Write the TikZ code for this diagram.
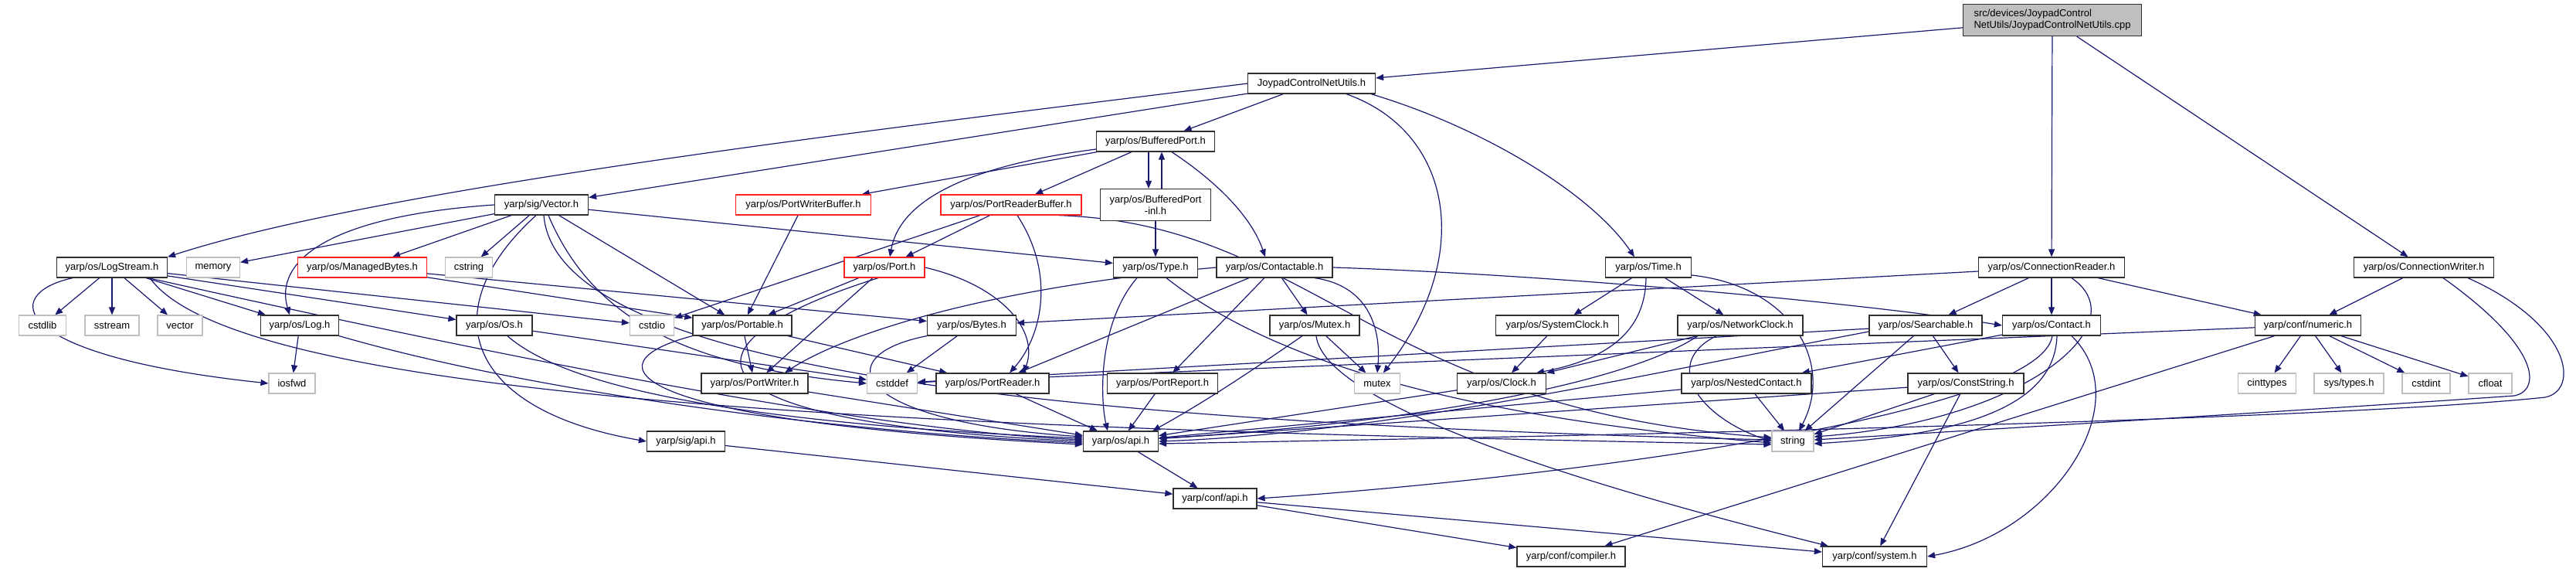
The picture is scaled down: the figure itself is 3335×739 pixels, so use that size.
\documentclass[tikz,border=0pt]{standalone}
\usepackage{fontspec}
\setmainfont{Liberation Sans}
\usetikzlibrary{arrows.meta}
\definecolor{edgec}{HTML}{191970}
\definecolor{redb}{HTML}{FF2020}
\definecolor{grayb}{HTML}{BFBFBF}
\definecolor{darkb}{HTML}{303030}
\pgfdeclarelayer{bg}
\pgfsetlayers{bg,main}
\begin{document}
\begin{tikzpicture}[x=1pt,y=-1pt,
  nb/.style={draw=darkb, fill=white, line width=1.25pt, minimum height=26pt, inner sep=0pt, font=\fontsize{13}{15}\selectfont},
  rb/.style={nb, draw=redb},
  gb/.style={nb, draw=grayb, line width=1.1pt},
  ar/.style={draw=edgec, line width=1.2pt, -{Triangle[length=10pt,width=8pt]}}]
\useasboundingbox (0,0) rectangle (3335,739);
% ---------- nodes ----------
\node[nb, minimum width=231pt, minimum height=41pt, fill=grayb, align=left] (cpp) at (2657,26) {src/devices/JoypadControl\\NetUtils/JoypadControlNetUtils.cpp};
\node[nb, minimum width=165pt] (jc) at (1698,108) {JoypadControlNetUtils.h};
\node[nb, minimum width=143pt] (ls) at (145,346) {yarp/os/LogStream.h};
\node[gb, minimum width=69pt] (memory) at (276,346) {memory};
\node[rb, minimum width=167pt] (mb) at (469,346) {yarp/os/ManagedBytes.h};
\node[gb, minimum width=61pt] (cstring) at (607,346) {cstring};
\node[nb, minimum width=121pt] (vec) at (701,265) {yarp/sig/Vector.h};
\node[rb, minimum width=175pt] (pwb) at (1040,265) {yarp/os/PortWriterBuffer.h};
\node[rb, minimum width=182pt] (prb) at (1309,265) {yarp/os/PortReaderBuffer.h};
\node[nb, minimum width=153pt] (bp) at (1496,183) {yarp/os/BufferedPort.h};
\node[nb, minimum width=143pt, minimum height=41pt, align=center] (inl) at (1496,265) {yarp/os/BufferedPort\\-inl.h};
\node[rb, minimum width=104pt] (port) at (1145,346) {yarp/os/Port.h};
\node[nb, minimum width=109pt] (type) at (1496,346) {yarp/os/Type.h};
\node[nb, minimum width=150pt] (ctb) at (1650,346) {yarp/os/Contactable.h};
\node[nb, minimum width=111pt] (time) at (2134,346) {yarp/os/Time.h};
\node[nb, minimum width=189pt] (cr) at (2656,346) {yarp/os/ConnectionReader.h};
\node[nb, minimum width=181pt] (cw) at (3138,346) {yarp/os/ConnectionWriter.h};
\node[gb, minimum width=61pt] (cstdlib) at (55,421) {cstdlib};
\node[gb, minimum width=70pt] (sstream) at (145,421) {sstream};
\node[gb, minimum width=58pt] (vector) at (233,421) {vector};
\node[nb, minimum width=101pt] (log) at (388,421) {yarp/os/Log.h};
\node[nb, minimum width=98pt] (os) at (640,421) {yarp/os/Os.h};
\node[gb, minimum width=57pt] (cstdio) at (844,421) {cstdio};
\node[nb, minimum width=128pt] (portable) at (961,421) {yarp/os/Portable.h};
\node[nb, minimum width=115pt] (bytes) at (1258,421) {yarp/os/Bytes.h};
\node[nb, minimum width=116pt] (mutexh) at (1702,421) {yarp/os/Mutex.h};
\node[nb, minimum width=159pt] (sysclk) at (2016,421) {yarp/os/SystemClock.h};
\node[nb, minimum width=162pt] (netclk) at (2253,421) {yarp/os/NetworkClock.h};
\node[nb, minimum width=146pt] (search) at (2493,421) {yarp/os/Searchable.h};
\node[nb, minimum width=127pt] (contact) at (2656,421) {yarp/os/Contact.h};
\node[nb, minimum width=137pt] (numeric) at (2988,421) {yarp/conf/numeric.h};
\node[gb, minimum width=60pt] (iosfwd) at (378,496) {iosfwd};
\node[nb, minimum width=138pt] (pw) at (977,496) {yarp/os/PortWriter.h};
\node[gb, minimum width=65pt] (cstddef) at (1155,496) {cstddef};
\node[nb, minimum width=146pt] (pr) at (1285,496) {yarp/os/PortReader.h};
\node[nb, minimum width=143pt] (prep) at (1505,496) {yarp/os/PortReport.h};
\node[gb, minimum width=59pt] (mutex) at (1783,496) {mutex};
\node[nb, minimum width=115pt] (clock) at (1944,496) {yarp/os/Clock.h};
\node[nb, minimum width=168pt] (nested) at (2261,496) {yarp/os/NestedContact.h};
\node[nb, minimum width=150pt] (cstr) at (2545,496) {yarp/os/ConstString.h};
\node[gb, minimum width=75pt] (cinttypes) at (2935,496) {cinttypes};
\node[gb, minimum width=90pt] (systypes) at (3041,496) {sys/types.h};
\node[gb, minimum width=62pt] (cstdint) at (3141,496) {cstdint};
\node[gb, minimum width=56pt] (cfloat) at (3224,496) {cfloat};
\node[nb, minimum width=101pt] (sigapi) at (888,571) {yarp/sig/api.h};
\node[nb, minimum width=97pt] (osapi) at (1451,571) {yarp/os/api.h};
\node[gb, minimum width=54pt] (string) at (2321,571) {string};
\node[nb, minimum width=108pt] (confapi) at (1573,645) {yarp/conf/api.h};
\node[nb, minimum width=140pt] (compiler) at (2034,720) {yarp/conf/compiler.h};
\node[nb, minimum width=135pt] (system) at (2427,720) {yarp/conf/system.h};
% ---------- edges ----------
\begin{pgfonlayer}{bg}
\draw[ar] (cpp) -- (jc);
\draw[ar] (cpp) -- (cr);
\draw[ar] (cpp) -- (cw);
\draw[ar] (jc.west) .. controls (1200,160) and (500,240) .. (ls.north east);
\draw[ar] (jc) -- (vec);
\draw[ar] (jc) -- (bp);
\draw[ar] ([xshift=45pt]jc.south) .. controls (1880,170) and (1910,330) .. (mutex.60);
\draw[ar] ([xshift=77pt]jc.south) .. controls (1920,165) and (2060,250) .. ([xshift=-18pt]time.north);
\draw[ar] (bp) -- (pwb);
\draw[ar] ([yshift=-10pt]bp.west) .. controls (1250,215) and (1165,260) .. ([xshift=7pt]port.north);
\draw[ar] (bp) -- (prb);
\draw[ar] ([xshift=-9pt]bp.south) -- ([xshift=-9pt]inl.north);
\draw[ar] ([xshift=8pt]inl.north) -- ([xshift=8pt]bp.south);
\draw[ar] ([xshift=21pt]bp.south) .. controls (1575,235) and (1620,280) .. ([xshift=-12pt]ctb.north);
\draw[ar] (inl) -- (type);
\draw[ar] (vec.west) .. controls (420,280) and (355,340) .. ([xshift=-13pt]log.north);
\draw[ar] (vec) -- (memory);
\draw[ar] (vec) -- (mb);
\draw[ar] (vec) -- (cstring);
\draw[ar] ([xshift=-7pt]vec.south) .. controls (560,400) and (600,530) .. (sigapi.west);
\draw[ar] (vec) -- (portable);
\draw[ar] (vec) -- (type);
\draw[ar] ([xshift=9pt]vec.south) .. controls (770,420) and (900,475) .. (cstddef.west);
\draw[ar] ([xshift=3pt]vec.south) .. controls (720,470) and (1300,545) .. ([yshift=2pt]string.west);
\draw[ar] (ls) -- (cstdlib);
\draw[ar] (ls) -- (sstream);
\draw[ar] (ls) -- (vector);
\draw[ar] (ls) -- (log);
\draw[ar] (ls) -- (os);
\draw[ar] (ls) -- (cstdio);
\draw[ar] ([xshift=-51pt]ls.south) .. controls (0,380) and (10,460) .. (iosfwd.west);
\draw[ar] ([xshift=49pt]ls.south) .. controls (310,520) and (1200,555) .. ([yshift=-4pt]string.west);
\draw[ar] ([xshift=47pt]ls.south) .. controls (600,450) and (1100,555) .. ([yshift=2pt]osapi.west);
\draw[ar] (mb) -- (portable);
\draw[ar] (mb) -- (bytes);
\draw[ar] (log) -- (iosfwd);
\draw[ar] (log.south east) .. controls (700,510) and (1100,560) .. ([yshift=-2pt]osapi.west);
\draw[ar] (os) -- (cstddef);
\draw[ar] ([xshift=17pt]os.south) .. controls (720,490) and (900,545) .. ([yshift=4pt]osapi.west);
\draw[ar] (portable) -- (pw);
\draw[ar] (portable) -- (pr);
\draw[ar] (portable.south west) .. controls (760,470) and (800,545) .. ([yshift=-4pt]osapi.west);
\draw[ar] (pwb) -- (portable);
\draw[ar] (prb) -- (cstdio);
\draw[ar] (prb) -- (port);
\draw[ar] ([xshift=8pt]prb.south) .. controls (1370,360) and (1345,440) .. ([xshift=22pt]pr.north);
\draw[ar] ([xshift=62pt]prb.south) .. controls (1700,290) and (1780,530) .. ([yshift=5pt]string.west);
\draw[ar] (port) -- (portable);
\draw[ar] (port) -- (pw);
\draw[ar] ([xshift=-8pt]port.south) .. controls (880,440) and (850,545) .. (osapi.west);
\draw[ar] (port.east) .. controls (1300,370) and (1345,430) .. ([xshift=40pt]pr.north);
\draw[ar] (bytes) -- (cstddef);
\draw[ar] (bytes.south west) .. controls (1070,460) and (1100,545) .. ([yshift=6pt]osapi.west);
\draw[ar] ([xshift=-24pt]type.south) .. controls (1420,420) and (1425,520) .. ([xshift=-17pt]osapi.north);
\draw[ar] ([xshift=14pt]type.south) .. controls (1650,470) and (1900,540) .. ([yshift=-2pt]string.west);
\draw[ar] (ctb.west) .. controls (1250,375) and (1080,440) .. ([xshift=39pt]pw.north);
\draw[ar] (ctb) -- (pr);
\draw[ar] (ctb) -- (prep);
\draw[ar] (ctb) -- (mutexh);
\draw[ar] ([xshift=52pt]ctb.south) .. controls (1775,370) and (1788,430) .. (mutex.north);
\draw[ar] (ctb.east) .. controls (2000,355) and (2400,390) .. (contact.west);
\draw[ar] (mutexh) -- (mutex);
\draw[ar] ([xshift=-16pt]mutexh.south) .. controls (1620,480) and (1560,520) .. ([xshift=-8pt]osapi.north east);
\draw[ar] ([xshift=2pt]mutexh.south) .. controls (1715,530) and (2100,640) .. ([xshift=-60pt]system.north);
\draw[ar] (prep) -- (osapi);
\draw[ar] (pr) -- (osapi);
\draw[ar] (pw) -- (osapi);
\draw[ar] (time) -- (sysclk);
\draw[ar] (time) -- (netclk);
\draw[ar] ([xshift=-3pt]time.south) .. controls (2130,430) and (2080,465) .. ([xshift=45pt]clock.north);
\draw[ar] ([yshift=-10pt]time.east) .. controls (2320,370) and (2375,470) .. ([xshift=8pt]string.north);
\draw[ar] (sysclk) -- (clock);
\draw[ar] (netclk) -- (clock.north east);
\draw[ar] ([xshift=-31pt]netclk.south) .. controls (2150,470) and (2200,540) .. (string.west);
\draw[ar] ([xshift=-55pt]netclk.south) .. controls (2100,500) and (1800,550) .. ([yshift=4pt]osapi.east);
\draw[ar] (clock) -- (osapi);
\draw[ar] (cr) -- (bytes);
\draw[ar] (cr) -- (search);
\draw[ar] (cr) -- (contact);
\draw[ar] (cr) -- (numeric);
\draw[ar] ([xshift=26pt]cr.south) .. controls (2770,420) and (2620,545) .. ([yshift=6pt]string.east);
\draw[ar] (cw) -- (numeric);
\draw[ar] ([xshift=25pt]cw.south) .. controls (3290,450) and (3290,505) .. (3255,512) .. controls (3000,530) and (2500,560) .. ([yshift=2pt]string.east);
\draw[ar] ([xshift=57pt]cw.south) .. controls (3330,420) and (3340,505) .. (3295,514) .. controls (3000,545) and (2000,565) .. ([yshift=-3pt]osapi.east);
\draw[ar] (search) -- (cstddef);
\draw[ar] (search) -- (string);
\draw[ar] (search) -- (cstr);
\draw[ar] ([yshift=-8pt]search.west) .. controls (2150,480) and (1800,560) .. (osapi.east);
\draw[ar] (contact) -- (nested);
\draw[ar] ([xshift=1pt]contact.south) .. controls (2640,540) and (2000,620) .. (confapi.east);
\draw[ar] ([xshift=7pt]contact.south) .. controls (2660,540) and (2500,565) .. ([yshift=-3pt]string.east);
\draw[ar] ([xshift=26pt]contact.south) .. controls (2770,520) and (2660,690) .. (system.east);
\draw[ar] (numeric) -- (cstddef);
\draw[ar] (numeric) -- (cinttypes);
\draw[ar] (numeric) -- (systypes);
\draw[ar] (numeric) -- (cstdint);
\draw[ar] (numeric) -- (cfloat);
\draw[ar] (numeric) -- (compiler);
\draw[ar] (nested) -- (string);
\draw[ar] (nested) -- (osapi);
\draw[ar] (cstr) -- (string);
\draw[ar] (cstr) -- (system);
\draw[ar] (cstr) -- (osapi);
\draw[ar] (sigapi) -- (confapi);
\draw[ar] (osapi) -- (confapi);
\draw[ar] (confapi) -- (compiler);
\draw[ar] (confapi) -- (system);
\end{pgfonlayer}
\end{tikzpicture}
\end{document}
